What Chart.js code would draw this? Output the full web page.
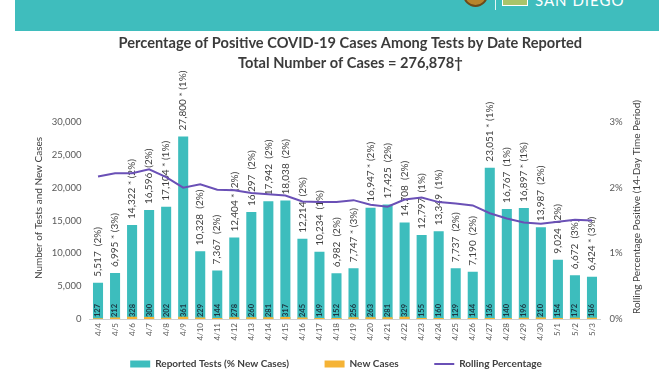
<!DOCTYPE html>
<html>
<head>
<meta charset="utf-8">
<script src="https://cdn.jsdelivr.net/npm/chart.js@4/dist/chart.umd.min.js"></script>
<style>
  html, body { margin: 0; padding: 0; background: #ffffff; }
  #wrap { position: relative; width: 672px; height: 372px; overflow: hidden; }
  #band { position: absolute; left: 15px; top: 0; width: 644px; height: 31px; background: #3fbdbd; }
  #seal { position: absolute; left: 463px; top: -18px; width: 21px; height: 21px; border-radius: 50%; background: #b7842c; border: 2px solid #6b4a1a; }
  #divider { position: absolute; left: 495px; top: 0; width: 1px; height: 10px; background: #e6f6f6; }
  #logoimg { position: absolute; left: 502px; top: -2px; width: 24px; height: 6px; background: #a9c46a; border: 1px solid #ffffff; }
  #sd { position: absolute; left: 535px; top: -9px; font: 15px/18px Lato, sans-serif; color: #ffffff; letter-spacing: 1px; }
  canvas { position: absolute; left: 0; top: 0; }
</style>
</head>
<body>
<div id="wrap">
  <div id="band"></div>
  <div id="seal"></div>
  <div id="divider"></div>
  <div id="logoimg"></div>
  <div id="sd">SAN DIEGO</div>
  <canvas id="c" width="672" height="372"></canvas>
</div>
<script>
const dates = ['4/4','4/5','4/6','4/7','4/8','4/9','4/10','4/11','4/12','4/13','4/14','4/15','4/16','4/17','4/18','4/19','4/20','4/21','4/22','4/23','4/24','4/25','4/26','4/27','4/28','4/29','4/30','5/1','5/2','5/3'];
const reportedTests = [5517, 6995, 14322, 16596, 17104, 27800, 10328, 7367, 12404, 16297, 17942, 18038, 12214, 10234, 6982, 7747, 16947, 17425, 14708, 12797, 13349, 7737, 7190, 23051, 16767, 16897, 13987, 9024, 6672, 6424];
const positivePct = [2, 3, 2, 2, 1, 1, 2, 2, 2, 2, 2, 2, 2, 1, 2, 3, 2, 2, 2, 1, 1, 2, 2, 1, 1, 1, 2, 2, 3, 3];
const asteriskFlag = [false, true, true, false, true, true, false, false, true, false, false, false, false, false, false, true, true, false, false, false, false, false, false, true, false, true, false, false, false, true];
const newCases = [127, 212, 328, 300, 202, 361, 229, 144, 278, 260, 281, 317, 245, 149, 152, 256, 263, 281, 329, 155, 160, 129, 144, 136, 140, 196, 210, 154, 172, 186];
const rollingPct = [2.17, 2.22, 2.22, 2.28, 2.16, 2.00, 2.05, 1.97, 1.96, 1.92, 1.90, 1.88, 1.79, 1.78, 1.78, 1.81, 1.74, 1.71, 1.82, 1.85, 1.78, 1.76, 1.73, 1.61, 1.53, 1.47, 1.45, 1.48, 1.51, 1.50];
const titleLines = ['Percentage of Positive COVID-19 Cases Among Tests by Date Reported', 'Total Number of Cases = 276,878\u2020'];
const leftAxisTitle = 'Number of Tests and New Cases';
const rightAxisTitle = 'Rolling Percentage Positive (14-Day Time Period)';

const FONT = 'Lato, "Open Sans", sans-serif';
const fmt = (v) => v.toLocaleString('en-US');

// extra gap between legend items, and a small rightward nudge of the title, made of spaces
const measureCtx = document.createElement('canvas').getContext('2d');
measureCtx.font = 'bold 10px ' + FONT;
const gapSpaces = ' '.repeat(Math.max(1, Math.round(31 / measureCtx.measureText(' ').width)));
measureCtx.font = 'bold 14.6px ' + FONT;
const titleLead = ' '.repeat(Math.max(0, Math.round(10 / measureCtx.measureText(' ').width)));

const labelPlugin = {
  id: 'barLabels',
  beforeDatasetsDraw(chart) {
    const ctx = chart.ctx;
    const meta = chart.getDatasetMeta(0);
    ctx.save();
    ctx.fillStyle = '#404040';
    ctx.font = '10px ' + FONT;
    ctx.textAlign = 'left';
    ctx.textBaseline = 'middle';
    meta.data.forEach((el, i) => {
      const txt = fmt(reportedTests[i]) + (asteriskFlag[i] ? ' * ' : '  ') + '(' + positivePct[i] + '%)';
      ctx.save();
      ctx.translate(el.x, el.y - 6);
      ctx.rotate(-Math.PI / 2);
      ctx.fillText(txt, 0, 0);
      ctx.restore();
    });
    ctx.restore();
  },
  afterDatasetsDraw(chart) {
    const ctx = chart.ctx;
    const meta = chart.getDatasetMeta(0);
    ctx.save();
    ctx.fillStyle = '#1c3642';
    ctx.font = 'bold 7.5px ' + FONT;
    ctx.textAlign = 'left';
    ctx.textBaseline = 'middle';
    meta.data.forEach((el, i) => {
      ctx.save();
      ctx.translate(el.x, el.base - 2);
      ctx.rotate(-Math.PI / 2);
      ctx.fillText(String(newCases[i]), 0, 0);
      ctx.restore();
    });
    ctx.restore();
  },
  afterDraw(chart) {
    const ctx = chart.ctx;
    ctx.save();
    ctx.fillStyle = '#404040';
    ctx.font = '10px ' + FONT;
    ctx.textAlign = 'center';
    ctx.textBaseline = 'middle';
    ctx.save();
    ctx.translate(39, 208);
    ctx.rotate(-Math.PI / 2);
    ctx.fillText(leftAxisTitle, 0, 0);
    ctx.restore();
    ctx.save();
    ctx.translate(637, 207);
    ctx.rotate(-Math.PI / 2);
    ctx.fillText(rightAxisTitle, 0, 0);
    ctx.restore();
    ctx.restore();
  }
};

new Chart(document.getElementById('c'), {
  type: 'bar',
  data: {
    labels: dates,
    datasets: [
      {
        label: 'Reported Tests (% New Cases)',
        data: reportedTests,
        backgroundColor: '#3dbdbd',
        barPercentage: 0.59,
        categoryPercentage: 1,
        yAxisID: 'y',
        order: 3,
        pointStyle: 'rect'
      },
      {
        label: 'New Cases',
        data: newCases,
        backgroundColor: '#f5b335',
        barPercentage: 0.59,
        categoryPercentage: 1,
        grouped: false,
        yAxisID: 'y',
        order: 2,
        pointStyle: 'rect'
      },
      {
        type: 'line',
        label: 'Rolling Percentage',
        data: rollingPct,
        borderColor: '#6a50b6',
        backgroundColor: '#6a50b6',
        borderWidth: 2,
        pointRadius: 0,
        tension: 0,
        yAxisID: 'y2',
        order: 1,
        pointStyle: 'line'
      }
    ]
  },
  options: {
    responsive: false,
    animation: false,
    layout: { padding: { top: 0, left: 0, right: 0, bottom: -7 } },
    plugins: {
      title: {
        display: true,
        text: titleLines.map((t) => titleLead + t),
        fullSize: false,
        color: '#3b3b3b',
        font: { family: FONT, size: 14.6, weight: 'bold', lineHeight: 1.37 },
        padding: { top: 33, bottom: 49 }
      },
      legend: {
        position: 'bottom',
        labels: {
          usePointStyle: true,
          pointStyleWidth: 20,
          boxHeight: 7,
          padding: 4,
          color: '#404040',
          font: { family: FONT, size: 10, weight: 'bold' },
          sort: (a, b) => a.datasetIndex - b.datasetIndex,
          generateLabels: (chart) => {
            const items = Chart.defaults.plugins.legend.labels.generateLabels(chart);
            items.forEach((it) => { if (it.datasetIndex !== 2) it.text = it.text + gapSpaces; });
            return items;
          }
        }
      },
      tooltip: { enabled: false }
    },
    scales: {
      x: {
        grid: { display: false, drawTicks: false },
        border: { display: true, color: '#d0d0d0', width: 1 },
        ticks: { autoSkip: false, minRotation: 90, maxRotation: 90, padding: 4, color: '#595959', font: { family: FONT, size: 8 } },
        afterFit: (s) => { s.height = 36; }
      },
      y: {
        position: 'left',
        min: 0, max: 30000,
        grid: { display: false, drawTicks: false },
        border: { display: false },
        ticks: { stepSize: 5000, padding: 8, color: '#595959', font: { family: FONT, size: 9.5 }, callback: (v) => fmt(v) },
        afterFit: (s) => { s.width = 89.5; }
      },
      y2: {
        position: 'right',
        min: 0, max: 3,
        grid: { display: false, drawTicks: false },
        border: { display: false },
        ticks: { stepSize: 1, padding: 9, color: '#595959', font: { family: FONT, size: 9.5 }, callback: (v) => v + '%' },
        afterFit: (s) => { s.width = 71.5; }
      }
    }
  },
  plugins: [labelPlugin]
});
</script>
</body>
</html>
